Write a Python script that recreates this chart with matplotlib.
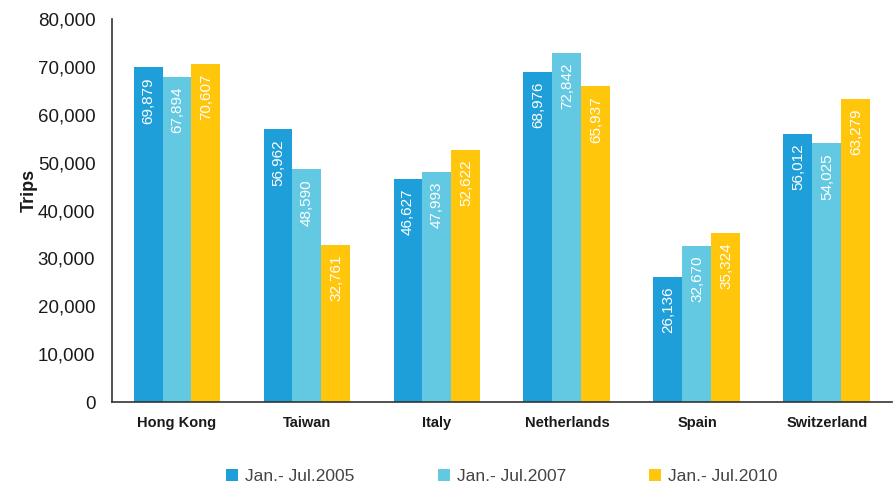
import matplotlib
import matplotlib.pyplot as plt
import numpy as np
from matplotlib.patches import Patch

matplotlib.rcParams["font.family"] = ["Liberation Sans", "DejaVu Sans"]
plt.switch_backend("agg")

CATEGORIES = ["Hong Kong", "Taiwan", "Italy", "Netherlands", "Spain", "Switzerland"]
SERIES_NAMES = ["Jan.- Jul.2005", "Jan.- Jul.2007", "Jan.- Jul.2010"]
TRIPS_2005 = [69879, 56962, 46627, 68976, 26136, 56012]
TRIPS_2007 = [67894, 48590, 47993, 72842, 32670, 54025]
TRIPS_2010 = [70607, 32761, 52622, 65937, 35324, 63279]
Y_TICKS = [0, 10000, 20000, 30000, 40000, 50000, 60000, 70000, 80000]

COLORS = ["#1E9FDA", "#63C9E3", "#FFC60B"]


def main():
    fig = plt.figure(figsize=(8.96, 4.87), dpi=100)
    ax = fig.add_axes([0.125, 0.1745, 0.8705, 0.7865])

    x = np.arange(len(CATEGORIES))
    width = 0.223
    series = [TRIPS_2005, TRIPS_2007, TRIPS_2010]

    for i, (vals, color) in enumerate(zip(series, COLORS)):
        pos = x + (i - 1) * width
        ax.bar(pos, vals, width=width, color=color, edgecolor="none", zorder=2)
        for xp, v in zip(pos, vals):
            ax.annotate(
                f"{v:,}",
                xy=(xp, v),
                xytext=(0, -7),
                textcoords="offset points",
                rotation=90,
                ha="center",
                va="top",
                color="white",
                fontsize=11,
            )

    ax.set_xlim(-0.5, len(CATEGORIES) - 0.5)
    ax.set_ylim(0, 80000)
    ax.set_yticks(Y_TICKS)
    ax.set_yticklabels([f"{t:,}" for t in Y_TICKS], fontsize=13.5, color="#1a1a1a")
    ax.set_xticks(x)
    ax.set_xticklabels(CATEGORIES, fontsize=10.5, fontweight="bold", color="#1a1a1a")
    ax.tick_params(axis="both", length=0)
    ax.tick_params(axis="x", pad=10)
    ax.tick_params(axis="y", pad=12)

    for side in ["top", "right"]:
        ax.spines[side].set_visible(False)
    ax.spines["left"].set_color("#333333")
    ax.spines["bottom"].set_color("#333333")
    ax.spines["left"].set_linewidth(1.2)
    ax.spines["bottom"].set_linewidth(1.2)

    ax.set_ylabel("Trips", fontsize=13, fontweight="bold", color="#1a1a1a")
    ax.yaxis.set_label_coords(-0.095, 0.552)

    handles = [Patch(facecolor=c, edgecolor="none") for c in COLORS]
    fig.legend(
        handles,
        SERIES_NAMES,
        loc="center",
        bbox_to_anchor=(0.560, 0.022),
        ncol=3,
        frameon=False,
        fontsize=12.5,
        handlelength=0.7,
        handleheight=0.7,
        handletextpad=0.4,
        columnspacing=4.8,
        labelcolor="#444444",
    )

    fig.savefig("out.png", dpi=100, facecolor="white")
    plt.close(fig)


if __name__ == "__main__":
    main()
